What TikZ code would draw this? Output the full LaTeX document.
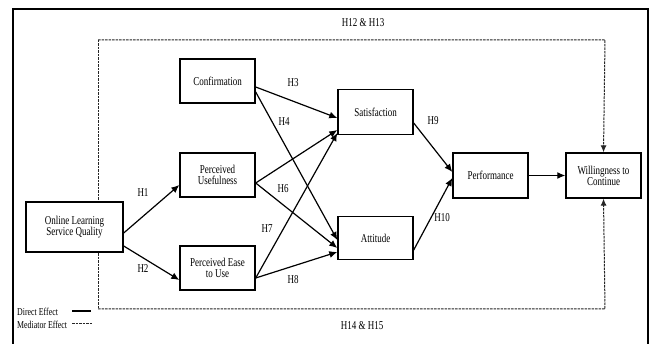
\documentclass[tikz,border=0pt]{standalone}
\usepackage{fontspec}
\setmainfont{Liberation Serif}[FakeStretch=0.75]
\usetikzlibrary{arrows.meta}
\begin{document}
\begin{tikzpicture}[x=1pt,y=-1pt,
  box/.style={draw,line width=1.4pt,fill=white,minimum width=75pt,minimum height=44pt,inner sep=1pt,align=center,font=\fontsize{12}{11}\selectfont},
  lbl/.style={font=\fontsize{12}{12}\selectfont,inner sep=0pt},
  dline/.style={line width=1pt,dash pattern=on 2.5pt off 1pt,draw=black!85},
  arr/.style={line width=1.2pt,-{Latex[length=8pt,width=7pt]}},
  darr/.style={dline,-{Latex[length=7pt,width=6pt]}}]
\useasboundingbox[fill=white] (0,0) rectangle (653,344);
\draw[line width=1.4pt] (13,344) -- (13,9) -- (648,9) -- (648,344);
% dashed mediator frame
\coordinate (tl) at (98,40);
\coordinate (tr) at (605,40);
\coordinate (bl) at (98,309);
\coordinate (br) at (605,309);
\draw[dline] (tl) -- (bl);
% nodes
\node[box] (conf) at (217.5,81) {Confirmation};
\node[box] (pu) at (217.5,175) {Perceived\\Usefulness};
\node[box] (peu) at (217.5,268) {Perceived Ease\\to Use};
\node[box,minimum width=97pt,minimum height=50pt] (olsq) at (74.5,227) {Online Learning\\Service Quality};
\node[box,minimum height=45pt] (sat) at (375.5,112) {Satisfaction};
\node[box,minimum height=43pt] (att) at (375.5,238) {Attitude};
\node[box,minimum height=45pt] (perf) at (490.5,175.5) {Performance};
\node[box,minimum height=45pt] (will) at (603.5,175.5) {Willingness to\\Continue};
\draw[darr] (tl) -- (tr) -- (will.north);
\draw[darr] (bl) -- (br) -- (will.south);
% direct arrows
\draw[arr] ([yshift=-6pt]olsq.east) -- ([yshift=-10pt]pu.west);
\draw[arr] ([yshift=-19pt]olsq.east) -- ([yshift=-12pt]peu.west);
\draw[arr] ([yshift=-6pt]conf.east) -- ([yshift=-6pt]sat.west);
\draw[arr] ([yshift=-11pt]conf.east) -- ([yshift=-2pt]att.west);
\draw[arr] ([yshift=-8pt]pu.east) -- ([yshift=-18pt]sat.west);
\draw[arr] ([yshift=-8pt]pu.east) -- ([yshift=-10pt]att.west);
\draw[arr] ([yshift=-10pt]peu.east) -- ([yshift=-21pt]sat.west);
\draw[arr] ([yshift=-10pt]peu.east) -- ([yshift=-14pt]att.west);
\draw[arr] ([yshift=-11pt]sat.east) -- ([yshift=3.5pt]perf.west);
\draw[arr] ([yshift=-12pt]att.east) -- ([yshift=-2.5pt]perf.west);
\draw[arr] (perf.east) -- (will.west);
% labels
\node[lbl] (h1) at (143,193) {H1};
\node[lbl] (h2) at (143,269) {H2};
\node[lbl] (h3) at (293,83) {H3};
\node[lbl] (h4) at (284,122) {H4};
\node[lbl] (h6) at (283,189) {H6};
\node[lbl] (h7) at (267,229) {H7};
\node[lbl] (h8) at (293,280) {H8};
\node[lbl] (h9) at (433,121) {H9};
\node[lbl] (h10) at (442,218) {H10};
\node[lbl] (h1213) at (363,23) {H12 \& H13};
\node[lbl] (h1415) at (362,326) {H14 \& H15};
% legend
\node[lbl,anchor=west,font=\fontsize{10.5}{10.5}\selectfont] (de) at (17,312) {Direct Effect};
\node[lbl,anchor=west,font=\fontsize{10.5}{10.5}\selectfont] (me) at (17,325) {Mediator Effect};
\coordinate (de1) at (72,311);
\coordinate (de2) at (91,311);
\coordinate (me1) at (72,324);
\coordinate (me2) at (92,324);
\draw[line width=1.4pt] (de1) -- (de2);
\draw[dline] (me1) -- (me2);
\end{tikzpicture}
\end{document}
